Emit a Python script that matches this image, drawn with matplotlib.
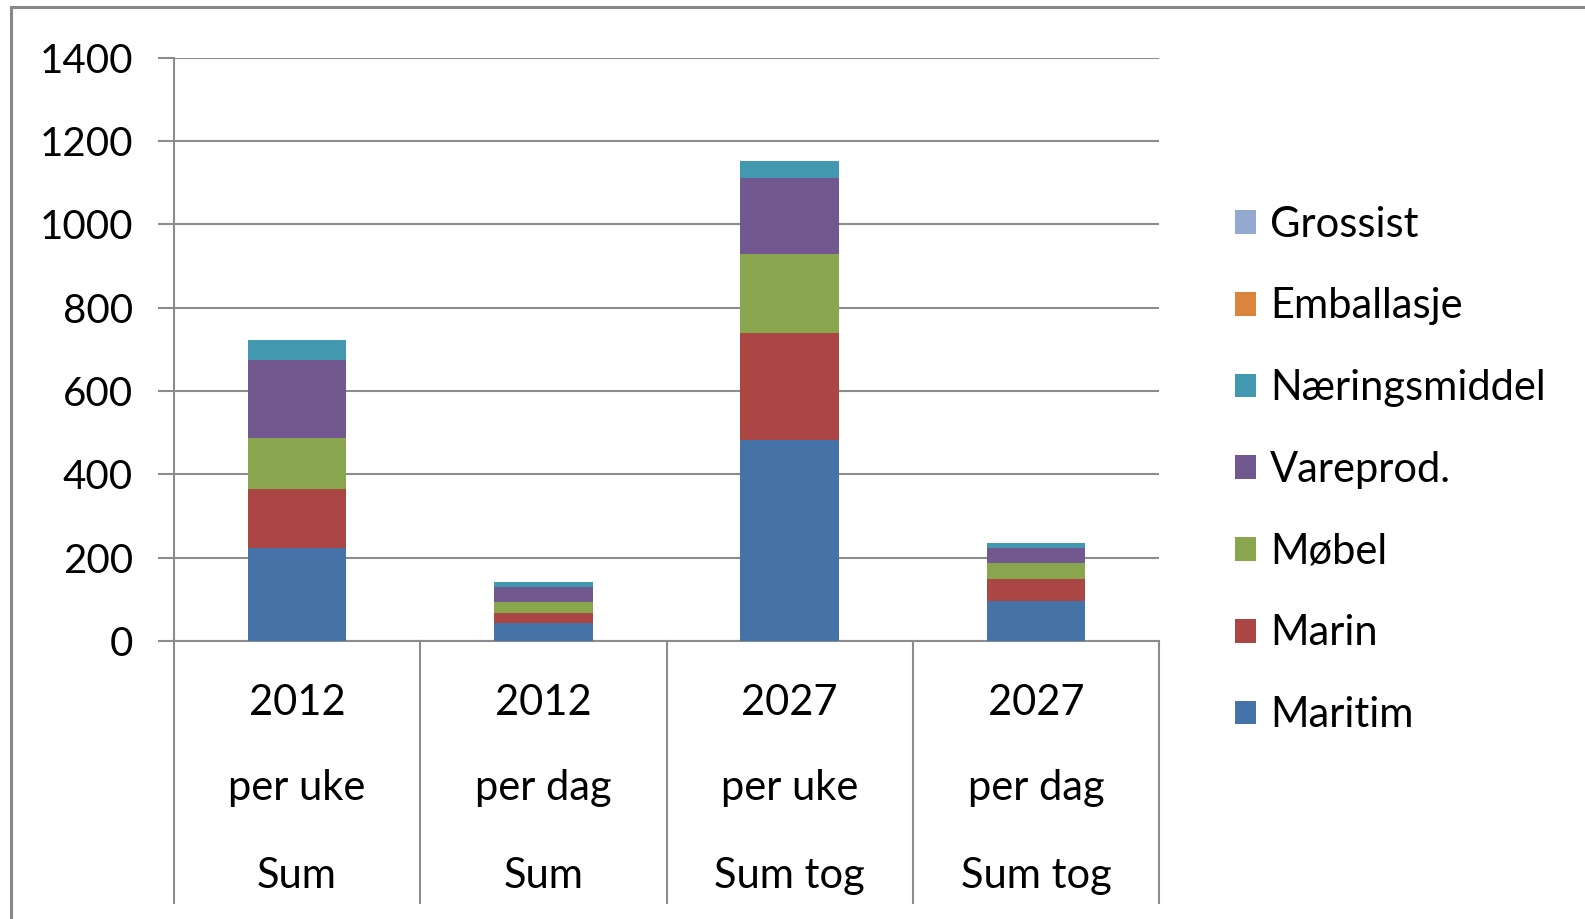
import numpy as np
import matplotlib
matplotlib.use('Agg')
import matplotlib.pyplot as plt
from matplotlib.patches import Rectangle

plt.rcParams['font.family'] = ['Lato', 'DejaVu Sans']

# data
years = ['2012', '2012', '2027', '2027']
periods = ['per uke', 'per dag', 'per uke', 'per dag']
sums = ['Sum', 'Sum', 'Sum tog', 'Sum tog']

series = ['Maritim', 'Marin', 'Møbel', 'Vareprod.', 'Næringsmiddel', 'Emballasje', 'Grossist']
maritim = [224, 42, 483, 96]
marin = [140, 26, 255, 53]
mobel = [124, 26, 191, 37]
vareprod = [187, 36, 182, 37]
naering = [47, 11, 42, 12]
emballasje = [0, 0, 0, 0]
grossist = [0, 0, 0, 0]
values = [maritim, marin, mobel, vareprod, naering, emballasje, grossist]
colors = ['#4572A7', '#AA4643', '#89A54E', '#71588F', '#4198AF', '#DB843D', '#93A9CF']

W, H = 1585, 919
fig = plt.figure(figsize=(W / 100, H / 100), dpi=100)
ax = fig.add_axes([174 / W, 1 - 641 / H, (1159 - 174) / W, (641 - 57.6) / H])

x = np.arange(len(years))
bottom = np.zeros(len(years))
handles = []
for name, vals, c in zip(series, values, colors):
    b = ax.bar(x, vals, 0.4, bottom=bottom, color=c, label=name, zorder=3)
    handles.append(b)
    bottom += np.array(vals)

gridc = '#8c8c8c'
ax.set_xlim(-0.5, 3.5)
ax.set_ylim(0, 1400)
ax.set_yticks(range(0, 1401, 200))
ax.yaxis.grid(True, color=gridc, linewidth=1.5, zorder=0)
ax.tick_params(axis='y', direction='out', length=11.5, width=1.5, color=gridc,
               labelsize=29, pad=18)
ax.set_xticks([])
for s in ['top', 'right']:
    ax.spines[s].set_visible(False)
ax.spines['left'].set_color(gridc)
ax.spines['left'].set_linewidth(1.5)
ax.spines['bottom'].set_color(gridc)
ax.spines['bottom'].set_linewidth(1.5)

# multi-level category axis
ah = 641 - 57.6
tr = ax.get_xaxis_transform()
for b in np.arange(-0.5, 3.6, 1.0):
    ax.plot([b, b], [0, (641 - 903) / ah], transform=tr, color=gridc,
            linewidth=1.5, clip_on=False)
for i in range(len(years)):
    ax.text(i, (641 - 715) / ah, years[i], transform=tr, ha='center', va='baseline', fontsize=30)
    ax.text(i, (641 - 800) / ah, periods[i], transform=tr, ha='center', va='baseline', fontsize=30)
    ax.text(i, (641 - 888) / ah, sums[i], transform=tr, ha='center', va='baseline', fontsize=30)

leg = fig.legend(handles[::-1], series[::-1], loc='upper left',
                 bbox_to_anchor=(1218 / W, 1 - 189 / H), frameon=False,
                 fontsize=30, handlelength=0.5, handleheight=0.5,
                 handletextpad=0.35, labelspacing=1.05, borderaxespad=0)

# outer frame
fig.patches.append(Rectangle((11 / W, -0.2), 1.2, 1.2 - 7 / H, transform=fig.transFigure,
                             fill=False, edgecolor='#888888', linewidth=2.2))

fig.savefig('out.png', dpi=100)
